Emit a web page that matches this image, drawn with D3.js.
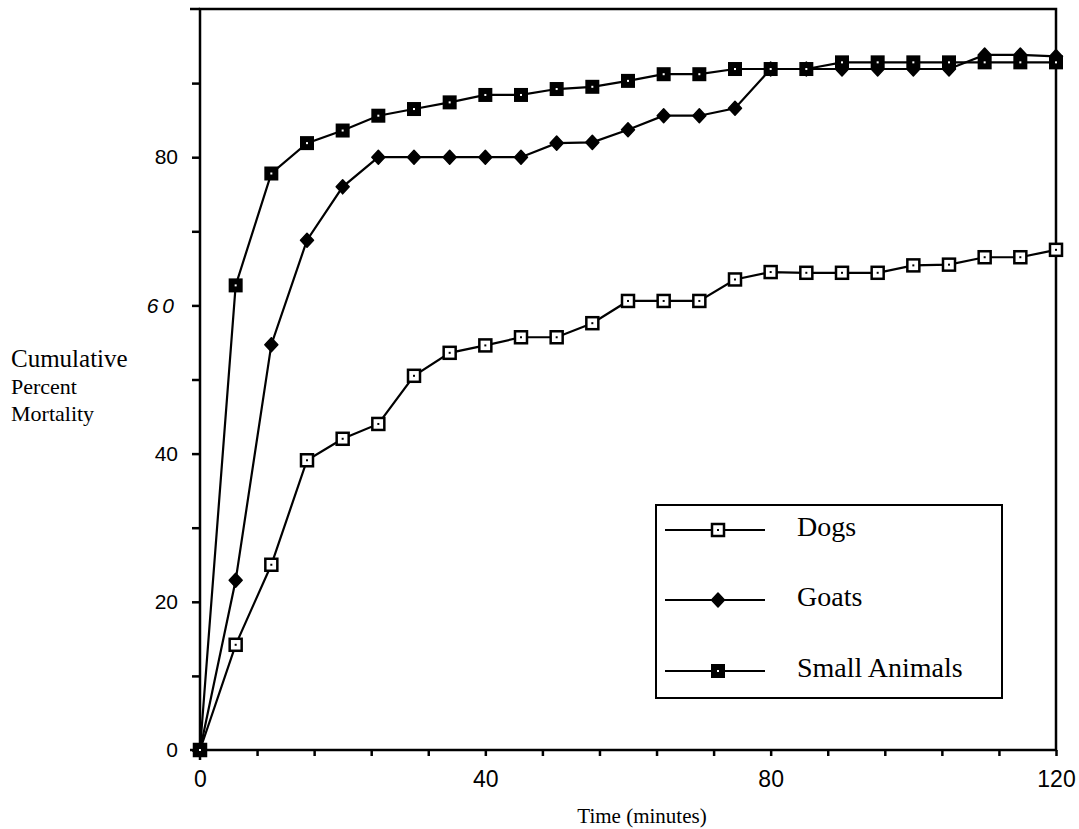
<!DOCTYPE html>
<html>
<head>
<meta charset="utf-8">
<script src="https://cdn.jsdelivr.net/npm/d3@7"></script>
<style>
  html, body { margin: 0; padding: 0; background: #fff; }
  svg { display: block; }
  .axis path, .axis line { stroke: #000; stroke-width: 2.5; }
  .axis text { font-family: 'Liberation Sans', Arial, sans-serif; fill: #000; }
  .serif { font-family: 'Liberation Serif', 'Times New Roman', serif; fill: #000; }
</style>
</head>
<body>
<svg></svg>
<script>
(function (d3) {
  'use strict'

  const times = [0, 5, 10, 15, 20, 25, 30, 35, 40, 45, 50, 55, 60, 65, 70, 75, 80, 85, 90, 95, 100, 105, 110, 115, 120]
  const dogs = [0, 14.2, 25, 39.1, 42, 44, 50.5, 53.6, 54.6, 55.7, 55.7, 57.6, 60.6, 60.6, 60.6, 63.5, 64.5, 64.4, 64.4, 64.4, 65.4, 65.5, 66.5, 66.5, 67.5]
  const goats = [0, 22.9, 54.7, 68.8, 76, 80, 80, 80, 80, 80, 81.9, 82, 83.7, 85.6, 85.6, 86.6, 91.9, 91.9, 91.9, 91.9, 91.9, 91.9, 93.8, 93.8, 93.6]
  const smallAnimals = [0, 62.7, 77.8, 81.9, 83.6, 85.6, 86.5, 87.4, 88.4, 88.4, 89.2, 89.5, 90.3, 91.2, 91.2, 91.9, 91.9, 91.9, 92.8, 92.8, 92.8, 92.8, 92.8, 92.8, 92.8]
  const seriesNames = ['Dogs', 'Goats', 'Small Animals']
  const yTickLabels = [0, 20, 40, 60, 80]
  const xTickLabels = [0, 40, 80, 120]

  const width = 1079
  const height = 829
  const margin = { top: 9, right: 23, bottom: 79, left: 200 }

  const svg = d3.select('svg').
    attr('width', width).
    attr('height', height)

  const x = d3.scaleLinear().domain([0, 120]).range([margin.left, width - margin.right])
  const y = d3.scaleLinear().domain([0, 100]).range([height - margin.bottom, margin.top])

  // frame, with the left and bottom strokes running a little past the corner
  svg.append('rect').
    attr('x', x(0)).
    attr('y', y(100)).
    attr('width', x(120) - x(0)).
    attr('height', y(0) - y(100)).
    attr('fill', 'none').
    attr('stroke', '#000').
    attr('stroke-width', 2.5)

  svg.append('line').
    attr('x1', x(0) - 10).attr('x2', x(0)).
    attr('y1', y(100)).attr('y2', y(100)).
    attr('stroke', '#000').attr('stroke-width', 2.5)
  svg.append('line').
    attr('x1', x(0) - 10).attr('x2', x(0)).
    attr('y1', y(0)).attr('y2', y(0)).
    attr('stroke', '#000').attr('stroke-width', 2.5)
  svg.append('line').
    attr('x1', x(0)).attr('x2', x(0)).
    attr('y1', y(0)).attr('y2', y(0) + 10).
    attr('stroke', '#000').attr('stroke-width', 2.5)

  const yAxis = d3.axisLeft(y).
    tickValues(d3.range(0, 100, 10)).
    tickSize(8).
    tickPadding(14).
    tickFormat(d => yTickLabels.includes(d) ? d : '')

  svg.append('g').
    attr('class', 'axis').
    attr('font-size', 21).
    attr('transform', `translate(${x(0)},0)`).
    call(yAxis).
    call(g => g.select('.domain').remove()).
    call(g => g.selectAll('text').attr('font-size', 21)).
    selectAll('text').
    filter(d => d === 60).
    attr('font-style', 'italic').
    attr('letter-spacing', '4px')

  const xAxis = d3.axisBottom(x).
    tickValues(d3.range(0, 121, 8)).
    tickSize(6).
    tickPadding(15).
    tickFormat(d => xTickLabels.includes(d) ? d : '')

  svg.append('g').
    attr('class', 'axis').
    attr('transform', `translate(0,${y(0)})`).
    call(xAxis).
    call(g => g.select('.domain').remove()).
    call(g => g.selectAll('text').attr('font-size', 23))

  // axis titles
  svg.append('text').
    attr('class', 'serif').
    attr('x', (x(0) + x(120)) / 2 + 14).
    attr('y', 823).
    attr('text-anchor', 'middle').
    attr('font-size', 21).
    text('Time (minutes)')

  const yTitle = svg.append('text').
    attr('class', 'serif')
  yTitle.append('tspan').attr('x', 11).attr('y', 367).attr('font-size', 25).text('Cumulative')
  yTitle.append('tspan').attr('x', 11).attr('y', 394).attr('font-size', 22).text('Percent')
  yTitle.append('tspan').attr('x', 11).attr('y', 421).attr('font-size', 22).text('Mortality')

  // markers
  function drawMarker (sel, name) {
    if (name === 'Dogs') {
      sel.append('rect').
        attr('x', -6).attr('y', -6).
        attr('width', 12).attr('height', 12).
        attr('fill', '#fff').
        attr('stroke', '#000').
        attr('stroke-width', 2.5)
      sel.append('rect').
        attr('x', -1).attr('y', -1).
        attr('width', 2).attr('height', 2).
        attr('fill', '#000')
    } else if (name === 'Goats') {
      sel.append('path').
        attr('d', 'M0,-7 L6.5,0 L0,7 L-6.5,0 Z').
        attr('fill', '#000').
        attr('stroke', '#000').
        attr('stroke-width', 1.5).
        attr('stroke-linejoin', 'round')
    } else {
      sel.append('rect').
        attr('x', -7).attr('y', -7).
        attr('width', 14).attr('height', 14).
        attr('fill', '#000')
      sel.append('rect').
        attr('x', -1).attr('y', -1).
        attr('width', 2).attr('height', 2).
        attr('fill', '#fff')
    }
  }

  const line = d3.line().
    x((d, i) => x(times[i])).
    y(d => y(d))

  const seriesData = [dogs, goats, smallAnimals]

  seriesData.forEach(values => {
    svg.append('path').
      datum(values).
      attr('d', line).
      attr('fill', 'none').
      attr('stroke', '#000').
      attr('stroke-width', 2.2)
  })

  seriesData.forEach((values, k) => {
    svg.append('g').
      selectAll('g').data(values).
      enter().append('g').
      attr('transform', (d, i) => `translate(${x(times[i])},${y(d)})`).
      each(function () { drawMarker(d3.select(this), seriesNames[k]) })
  })

  // legend
  const legend = svg.append('g')
  legend.append('rect').
    attr('x', 656).attr('y', 505).
    attr('width', 346).attr('height', 193).
    attr('fill', '#fff').
    attr('stroke', '#000').
    attr('stroke-width', 2)

  const legendRows = [530, 600, 671]
  seriesNames.forEach((name, i) => {
    const row = legend.append('g').attr('transform', `translate(0,${legendRows[i]})`)
    row.append('line').
      attr('x1', 665).attr('x2', 765).
      attr('y1', 0).attr('y2', 0).
      attr('stroke', '#000').
      attr('stroke-width', 2)
    drawMarker(row.append('g').attr('transform', 'translate(718,0)'), name)
    row.append('text').
      attr('class', 'serif').
      attr('x', 797).
      attr('y', 6).
      attr('font-size', 28).
      text(name)
  })
}(d3))
</script>
</body>
</html>
